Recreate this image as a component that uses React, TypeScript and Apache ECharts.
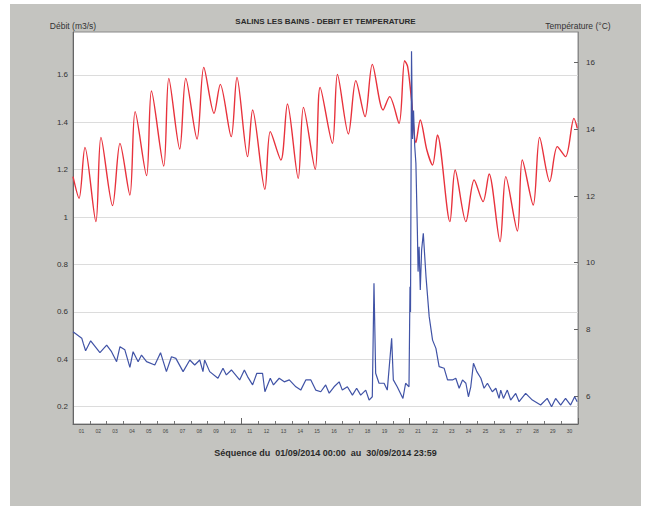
import React, { useEffect, useRef } from "react";
import * as echarts from "echarts";

const titleText = "SALINS LES BAINS - DEBIT ET TEMPERATURE";
const footerText = "Séquence du  01/09/2014 00:00  au  30/09/2014 23:59";
const leftAxisName = "Débit (m3/s)";
const rightAxisName = "Température (°C)";

const dayLabels = [
  "01", "02", "03", "04", "05", "06", "07", "08", "09", "10",
  "11", "12", "13", "14", "15", "16", "17", "18", "19", "20",
  "21", "22", "23", "24", "25", "26", "27", "28", "29", "30",
];
const flowTicks = [0.2, 0.4, 0.6, 0.8, 1, 1.2, 1.4, 1.6];
const tempTicks = [6, 8, 10, 12, 14, 16];

// [days since 01/09 00:00, flow m3/s]
const flowPoints: [number, number][] = [
  [0, 0.516], [0.52, 0.489], [0.61, 0.467], [0.75, 0.436], [1.05, 0.478], [1.6, 0.428],
  [2.0, 0.46], [2.29, 0.432], [2.59, 0.39], [2.79, 0.453], [3.08, 0.44], [3.38, 0.366],
  [3.57, 0.432], [3.87, 0.39], [4.07, 0.418], [4.37, 0.39], [4.86, 0.376], [5.2, 0.428],
  [5.55, 0.348], [5.85, 0.411], [6.11, 0.404], [6.54, 0.348], [6.94, 0.397], [7.23, 0.376],
  [7.53, 0.397], [7.72, 0.348], [7.82, 0.397], [8.12, 0.348], [8.61, 0.32], [8.91, 0.362],
  [9.11, 0.334], [9.41, 0.355], [9.9, 0.313], [10.18, 0.355], [10.37, 0.327], [10.67, 0.292],
  [10.92, 0.341], [11.26, 0.341], [11.4, 0.263], [11.72, 0.32], [11.91, 0.292], [12.25, 0.32],
  [12.55, 0.305], [12.85, 0.313], [13.24, 0.284], [13.53, 0.27], [13.83, 0.313], [14.13, 0.313],
  [14.42, 0.27], [14.72, 0.263], [15.01, 0.292], [15.22, 0.257], [15.51, 0.284], [15.81, 0.305],
  [16.0, 0.27], [16.3, 0.284], [16.6, 0.249], [16.85, 0.278], [17.09, 0.249], [17.39, 0.27],
  [17.59, 0.228], [17.78, 0.242], [17.88, 0.721], [17.98, 0.341], [18.18, 0.299], [18.48, 0.299],
  [18.67, 0.27], [18.93, 0.489], [19.03, 0.313], [19.26, 0.284], [19.6, 0.235], [19.76, 0.299],
  [19.96, 0.284], [20.02, 0.706], [20.05, 0.6], [20.11, 1.7], [20.17, 1.33], [20.23, 1.45],
  [20.3, 1.3], [20.37, 1.227], [20.46, 0.932], [20.5, 0.77], [20.56, 0.875], [20.63, 0.692],
  [20.71, 0.861], [20.81, 0.932], [20.97, 0.749], [21.16, 0.58], [21.36, 0.481], [21.56, 0.446],
  [21.75, 0.369], [22.05, 0.362], [22.25, 0.313], [22.54, 0.313], [22.74, 0.32], [22.94, 0.278],
  [23.14, 0.313], [23.34, 0.299], [23.49, 0.242], [23.63, 0.284], [23.79, 0.383], [23.99, 0.348],
  [24.23, 0.32], [24.42, 0.278], [24.62, 0.299], [24.91, 0.263], [25.12, 0.278], [25.31, 0.235],
  [25.41, 0.27], [25.57, 0.235], [25.8, 0.27], [26.0, 0.228], [26.3, 0.256], [26.5, 0.221],
  [26.89, 0.256], [27.29, 0.228], [27.78, 0.207], [28.17, 0.235], [28.43, 0.2], [28.67, 0.235],
  [28.97, 0.207], [29.26, 0.235], [29.56, 0.207], [29.8, 0.242], [29.95, 0.221],
];

// [days since 01/09 00:00, temperature °C]
const tempPoints: [number, number][] = [
  [0, 12.58], [0.36, 11.93], [0.71, 13.46], [1.36, 11.23], [1.66, 13.76], [2.35, 11.71],
  [2.79, 13.58], [3.38, 12.03], [3.69, 14.53], [4.37, 12.61], [4.66, 15.15], [5.39, 12.9],
  [5.69, 15.53], [6.34, 13.41], [6.7, 15.53], [7.37, 13.71], [7.77, 15.86], [8.38, 14.48],
  [8.75, 15.35], [9.4, 13.78], [9.74, 15.56], [10.37, 13.18], [10.67, 14.58], [11.4, 12.2],
  [11.72, 13.93], [12.35, 13.08], [12.74, 14.76], [13.38, 12.53], [13.69, 14.66], [14.39, 12.8],
  [14.68, 15.26], [15.41, 13.58], [15.71, 15.65], [16.36, 13.86], [16.8, 15.46], [17.35, 14.38],
  [17.78, 15.95], [18.42, 14.58], [18.81, 14.98], [19.37, 14.18], [19.7, 16.06], [19.88, 15.88],
  [20.11, 14.88], [20.37, 13.6], [20.63, 14.28], [21.02, 13.38], [21.36, 12.93], [21.65, 13.83],
  [22.39, 11.23], [22.7, 12.78], [23.34, 11.23], [23.83, 12.48], [24.36, 11.83], [24.72, 12.66],
  [25.37, 10.63], [25.71, 12.58], [26.4, 10.95], [26.69, 13.08], [27.34, 11.73], [27.72, 13.76],
  [28.32, 12.43], [28.77, 13.48], [29.26, 13.18], [29.76, 14.33], [29.96, 14.03],
];

const FONT = "'Liberation Sans', Arial, sans-serif";

export default function App() {
  const ref = useRef<HTMLDivElement>(null);

  useEffect(() => {
    if (!ref.current) return;
    const chart = echarts.init(ref.current, undefined, { renderer: "svg" });
    chart.setOption({
      animation: false,
      backgroundColor: "#c4c4c0",
      textStyle: { fontFamily: FONT },
      title: [
        {
          text: titleText,
          left: "center",
          top: 8,
          textStyle: { fontSize: 8, fontWeight: "bold", color: "#2a2a2a", fontFamily: FONT },
        },
        {
          text: footerText,
          left: "center",
          top: 439,
          textStyle: { fontSize: 9, fontWeight: "bold", color: "#2a2a2a", fontFamily: FONT },
        },
      ],
      grid: {
        left: 63,
        right: 63,
        top: 28,
        bottom: 82,
        show: true,
        backgroundColor: "#ffffff",
        borderColor: "#8a8a8a",
        borderWidth: 1,
      },
      xAxis: [
        {
          type: "value",
          min: 0,
          max: 30,
          interval: 10,
          position: "bottom",
          axisLine: { show: true, lineStyle: { color: "#666", width: 1 } },
          axisTick: { show: true, inside: true, length: 6, lineStyle: { color: "#666" } },
          minorTick: { show: true, splitNumber: 10, length: 3, lineStyle: { color: "#777" } },
          axisLabel: { show: false },
          splitLine: { show: false },
        },
        {
          type: "category",
          data: dayLabels,
          boundaryGap: true,
          position: "bottom",
          axisLine: { show: false },
          axisTick: { show: false },
          axisLabel: { interval: 0, fontSize: 5, color: "#444", margin: 4, fontFamily: FONT },
          splitLine: { show: false },
        },
      ],
      yAxis: [
        {
          type: "value",
          position: "left",
          min: 0.127,
          max: 1.781,
          name: leftAxisName,
          nameLocation: "end",
          nameGap: 2,
          nameTextStyle: { fontSize: 8.5, color: "#333", fontFamily: FONT },
          axisLine: { show: true, lineStyle: { color: "#666", width: 1 } },
          axisTick: { show: false, customValues: flowTicks },
          axisLabel: {
            customValues: flowTicks,
            fontSize: 8,
            color: "#333",
            margin: 5,
            fontFamily: FONT,
          },
          splitLine: { show: true, lineStyle: { color: "#dcdcdc", width: 1 } },
        },
        {
          type: "value",
          position: "right",
          min: 5.16,
          max: 16.92,
          name: rightAxisName,
          nameLocation: "end",
          nameGap: 2,
          nameTextStyle: { fontSize: 8.5, color: "#333", fontFamily: FONT },
          axisLine: { show: true, lineStyle: { color: "#8a8a8a", width: 1 } },
          axisTick: { show: true, inside: true, length: 4, customValues: tempTicks, lineStyle: { color: "#666" } },
          axisLabel: {
            customValues: tempTicks,
            fontSize: 8,
            color: "#333",
            margin: 8,
            fontFamily: FONT,
          },
          splitLine: { show: false },
        },
      ],
      series: [
        {
          name: "Température",
          type: "line",
          xAxisIndex: 0,
          yAxisIndex: 1,
          data: tempPoints,
          showSymbol: false,
          smooth: 0.3,
          lineStyle: { color: "#e8323c", width: 1.4 },
          itemStyle: { color: "#e8323c" },
        },
        {
          name: "Débit",
          type: "line",
          xAxisIndex: 0,
          yAxisIndex: 0,
          data: flowPoints,
          showSymbol: false,
          lineStyle: { color: "#4053a6", width: 1.2 },
          itemStyle: { color: "#4053a6" },
        },
      ],
    });
    return () => chart.dispose();
  }, []);

  return (
    <div style={{ position: "fixed", left: 0, top: 0, width: 649, height: 506, background: "#ffffff" }}>
      <div ref={ref} style={{ position: "absolute", left: 10, top: 4, width: 631, height: 502 }} />
    </div>
  );
}
